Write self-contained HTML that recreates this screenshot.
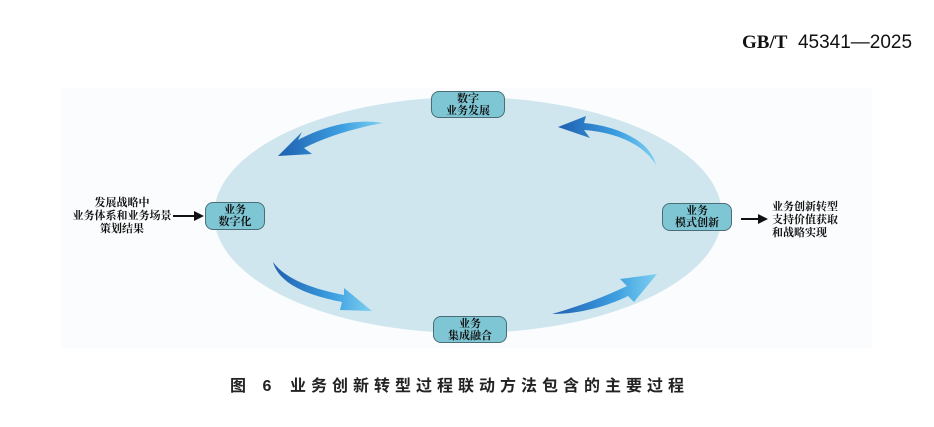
<!DOCTYPE html>
<html><head><meta charset="utf-8"><style>
html,body{margin:0;padding:0;background:#fff;}
body{width:934px;height:427px;position:relative;overflow:hidden;font-family:"Liberation Sans","Noto Sans CJK SC",sans-serif;}
.t{position:absolute;white-space:nowrap;}
.box{position:absolute;background:#7ec6d4;border:1.5px solid #4a6d78;border-radius:8px;box-sizing:border-box;font-family:"Liberation Serif","Noto Serif CJK SC",serif;font-size:11px;line-height:12px;text-align:center;color:#111;display:flex;flex-direction:column;justify-content:center;font-weight:bold;}
.side{position:absolute;font-family:"Liberation Serif","Noto Serif CJK SC",serif;font-size:11px;line-height:13px;color:#111;white-space:nowrap;font-weight:bold;}
</style></head><body>
<div class="t" style="left:742px;top:32px;font-size:19px;color:#111;"><span style="font-family:'Liberation Serif',serif;font-weight:bold;">GB/T</span>&nbsp; 45341—2025</div>
<svg width="934" height="427" style="position:absolute;left:0;top:0">
<defs>
<linearGradient id="g" x1="0" y1="0" x2="1" y2="0"><stop offset="0" stop-color="#1f5fb0"/><stop offset="0.6" stop-color="#3c9ee0"/><stop offset="1" stop-color="#7fd0f0"/></linearGradient>
</defs>
<rect x="62" y="88" width="810" height="260" fill="#fbfcfd"/>
<ellipse cx="468" cy="215" rx="254" ry="118" fill="#cfe6ee"/>
<path d="M383 123 C352 118 320 128 298 140 L302 132 L278 156 L312 154 L304 148 C328 136 355 128 383 123 Z" fill="url(#g)"/>
<path d="M656 165 C642 142 612 132 584 130 L590 138 L558 127 L586 116 L584 123 C616 126 650 140 656 165 Z" fill="url(#g)"/>
<path d="M273 262 C280 286 312 296 342 302 L340 310 L372 311 L344 288 L344 295 C314 289 286 280 273 262 Z" fill="url(#g)"/>
<path d="M552 314 C580 314 608 306 628 296 L634 302 L657 274 L620 279 L627 286 C604 297 580 306 552 314 Z" fill="url(#g)"/>
<line x1="173" y1="216" x2="196" y2="216" stroke="#111" stroke-width="2"/>
<polygon points="204,216 194,211 194,221" fill="#111"/>
<line x1="741" y1="219" x2="760" y2="219" stroke="#111" stroke-width="2"/>
<polygon points="768,219 758,214 758,224" fill="#111"/>
</svg>
<div class="box" style="left:431px;top:91px;width:74px;height:27px;"><div>数字</div><div>业务发展</div></div>
<div class="box" style="left:205px;top:202px;width:60px;height:28px;"><div>业务</div><div>数字化</div></div>
<div class="box" style="left:662px;top:203px;width:70px;height:28px;"><div>业务</div><div>模式创新</div></div>
<div class="box" style="left:433px;top:316px;width:74px;height:27px;"><div>业务</div><div>集成融合</div></div>
<div class="side" style="left:70px;top:197px;text-align:center;width:104px;">发展战略中<br>业务体系和业务场景<br>策划结果</div>
<div class="side" style="left:772px;top:201px;">业务创新转型<br>支持价值获取<br>和战略实现</div>
<div class="t" style="left:230px;top:372px;font-size:16px;font-weight:bold;color:#222;letter-spacing:6px;">图 6</div>
<div class="t" style="left:290px;top:372px;font-size:16px;font-weight:bold;color:#222;letter-spacing:5px;">业务创新转型过程联动方法包含的主要过程</div>
</body></html>
